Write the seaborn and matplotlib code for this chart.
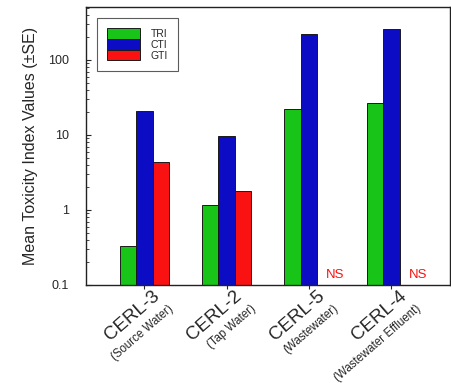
import numpy as np
import pandas as pd
import matplotlib
matplotlib.use("Agg")
import matplotlib.pyplot as plt
from matplotlib.transforms import ScaledTranslation
import seaborn as sns

sites = ["CERL-3", "CERL-2", "CERL-5", "CERL-4"]
site_notes = ["(Source Water)", "(Tap Water)", "(Wastewater)", "(Wastewater Effluent)"]
indices = ["TRI", "CTI", "GTI"]
tri = [0.33, 1.17, 22, 27]
cti = [21, 9.7, 222, 257]
gti = [4.4, 1.8, np.nan, np.nan]  # NS for the wastewater samples
colors = ["#18c418", "#0c0cc4", "#fa1212"]

df = pd.DataFrame({
    "site": sites * 3,
    "index": ["TRI"] * 4 + ["CTI"] * 4 + ["GTI"] * 4,
    "value": tri + cti + gti,
})

sns.set_style("ticks")
plt.rcParams["font.family"] = ["Liberation Sans", "DejaVu Sans"]

fig = plt.figure(figsize=(4.52, 3.83), dpi=100)
ax = fig.add_axes([0.19, 0.256, 0.805, 0.726])

sns.barplot(data=df, x="site", y="value", hue="index", order=sites,
            hue_order=indices, palette=colors, saturation=1, width=0.6, gap=0,
            edgecolor="#1a1a1a", linewidth=0.7, ax=ax)

ax.set_yscale("log")
ax.set_ylim(0.1, 510)
ax.set_xlim(-0.71, 3.71)
ax.set_yticks([0.1, 1, 10, 100])
ax.set_yticklabels(["0.1", "1", "10", "100"], fontsize=9)
ax.tick_params(axis="y", which="both", direction="in", pad=12)
ax.tick_params(axis="x", direction="out", length=3)
ax.set_xlabel("")
ax.set_ylabel("Mean Toxicity Index Values (\u00b1SE)", fontsize=11.5, labelpad=7)

rot = 41
ax.set_xticks(range(len(sites)))
ax.set_xticklabels(sites, rotation=rot, ha="right", va="center",
                   rotation_mode="anchor", fontsize=13.5)
for lab in ax.get_xticklabels():
    lab.set_transform(lab.get_transform() +
                      ScaledTranslation(0.13, 0.0, fig.dpi_scale_trans))
for i, note in enumerate(site_notes):
    ax.annotate(note, xy=(i, 0), xycoords=("data", "axes fraction"),
                xytext=(20, -16), textcoords="offset points",
                rotation=rot, ha="right", va="center", rotation_mode="anchor",
                fontsize=8.3)

# not sampled
for i in [2, 3]:
    ax.text(i + 0.32, 0.135, "NS", color="#fa1212", fontsize=9.5,
            ha="center", va="center")

for side in ["top", "right"]:
    ax.spines[side].set_visible(True)
for sp in ax.spines.values():
    sp.set_color("#222222")
    sp.set_linewidth(1.0)

leg = ax.legend(loc="upper left", fontsize=7.5, frameon=True, fancybox=False,
                edgecolor="#333333", handlelength=3.2, handleheight=1.2,
                handletextpad=1.0, labelspacing=0.0, borderpad=1.0,
                bbox_to_anchor=(0.015, 0.98))
leg.get_frame().set_linewidth(0.8)

fig.savefig("out.png", dpi=100)
